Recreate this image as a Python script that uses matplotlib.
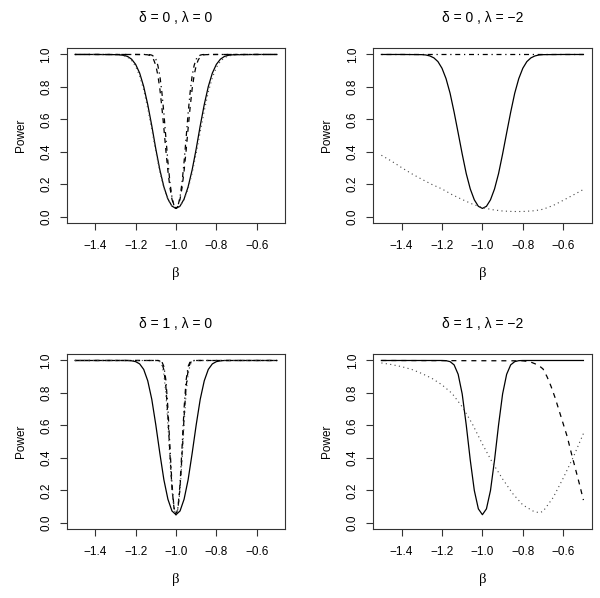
import matplotlib
matplotlib.use("Agg")
import matplotlib.pyplot as plt

plt.rcParams['font.family'] = ['Liberation Sans', 'DejaVu Sans']

# ---------------- data ----------------
# wide grid (0.02 steps near beta = -1)
beta_wide = [-1.50, -1.40, -1.30, -1.28, -1.26, -1.24, -1.22, -1.20, -1.18, -1.16,
             -1.14, -1.12, -1.10, -1.08, -1.06, -1.04, -1.02, -1.00, -0.98, -0.96,
             -0.94, -0.92, -0.90, -0.88, -0.86, -0.84, -0.82, -0.80, -0.78, -0.76,
             -0.74, -0.72, -0.70, -0.60, -0.50]
# narrow grid (0.01 steps near beta = -1)
beta_narrow = [-1.50, -1.30, -1.20, -1.15, -1.14, -1.13, -1.12, -1.11, -1.10, -1.09,
               -1.08, -1.07, -1.06, -1.05, -1.04, -1.03, -1.02, -1.01, -1.00, -0.99,
               -0.98, -0.97, -0.96, -0.95, -0.94, -0.93, -0.92, -0.91, -0.90, -0.89,
               -0.88, -0.87, -0.86, -0.85, -0.80, -0.70, -0.50]
beta_coarse = [-1.50, -1.45, -1.40, -1.35, -1.30, -1.25, -1.20, -1.15, -1.10, -1.05,
               -1.00, -0.95, -0.90, -0.85, -0.80, -0.75, -0.72, -0.70, -0.65, -0.60,
               -0.55, -0.50]
beta_p4_dash = [-1.50, -0.80, -0.78, -0.76, -0.74, -0.72, -0.70, -0.68, -0.66, -0.64,
                -0.62, -0.60, -0.58, -0.56, -0.54, -0.52, -0.50]
beta_flat = [-1.50, -0.50]

# panel 1: delta = 0, lambda = 0
p1_solid = [1.0, 1.0, 0.999, 0.998, 0.995, 0.988, 0.971, 0.939, 0.885, 0.802,
            0.691, 0.560, 0.417, 0.288, 0.183, 0.108, 0.064, 0.050, 0.064, 0.108,
            0.183, 0.288, 0.417, 0.560, 0.691, 0.802, 0.885, 0.939, 0.971, 0.988,
            0.995, 0.998, 0.999, 1.0, 1.0]
p1_dotted = [1.0, 1.0, 0.999, 0.997, 0.993, 0.983, 0.963, 0.927, 0.868, 0.781,
             0.667, 0.538, 0.401, 0.276, 0.176, 0.105, 0.063, 0.050, 0.063, 0.104,
             0.172, 0.268, 0.390, 0.522, 0.652, 0.768, 0.857, 0.920, 0.958, 0.980,
             0.991, 0.996, 0.998, 1.0, 1.0]
p1_dashed = [1.0, 1.0, 1.0, 0.999, 0.998, 0.994, 0.985, 0.966, 0.932, 0.873,
             0.788, 0.674, 0.544, 0.405, 0.281, 0.178, 0.107, 0.064, 0.050, 0.064,
             0.107, 0.178, 0.281, 0.405, 0.544, 0.674, 0.788, 0.873, 0.932, 0.966,
             0.985, 0.994, 0.998, 0.999, 1.0, 1.0, 1.0]
p1_dashdot = [1.0, 1.0, 1.0, 1.0, 1.0, 0.999, 0.996, 0.988, 0.971, 0.933,
              0.869, 0.767, 0.637, 0.484, 0.337, 0.210, 0.120, 0.067, 0.050, 0.067,
              0.120, 0.210, 0.337, 0.484, 0.637, 0.767, 0.869, 0.933, 0.971, 0.988,
              0.996, 0.999, 1.0, 1.0, 1.0, 1.0, 1.0]

# panel 2: delta = 0, lambda = -2
p2_solid = [1.0, 1.0, 0.999, 0.997, 0.991, 0.979, 0.956, 0.915, 0.851, 0.761,
            0.644, 0.516, 0.386, 0.265, 0.170, 0.103, 0.063, 0.050, 0.063, 0.103,
            0.170, 0.265, 0.386, 0.516, 0.644, 0.761, 0.851, 0.915, 0.956, 0.979,
            0.991, 0.997, 0.999, 1.0, 1.0]
p2_dotted = [0.378, 0.342, 0.302, 0.264, 0.230, 0.198, 0.170, 0.135, 0.105, 0.077,
             0.055, 0.042, 0.034, 0.031, 0.031, 0.035, 0.040, 0.045, 0.068, 0.100,
             0.133, 0.167]
p2_dashdot = [1.0, 1.0]

# panel 3: delta = 1, lambda = 0
p3_solid = [1.0, 1.0, 1.0, 1.0, 1.0, 1.0, 0.998, 0.993, 0.979, 0.945,
            0.875, 0.761, 0.603, 0.428, 0.265, 0.145, 0.073, 0.050, 0.073, 0.145,
            0.265, 0.428, 0.603, 0.761, 0.875, 0.945, 0.979, 0.993, 0.998, 1.0,
            1.0, 1.0, 1.0, 1.0, 1.0]
p3_dashed = [1.0, 1.0, 1.0, 1.0, 1.0, 1.0, 1.0, 1.0, 1.0, 1.0,
             0.997, 0.985, 0.942, 0.836, 0.652, 0.421, 0.218, 0.091, 0.050, 0.091,
             0.218, 0.421, 0.652, 0.836, 0.942, 0.985, 0.997, 1.0, 1.0, 1.0,
             1.0, 1.0, 1.0, 1.0, 1.0, 1.0, 1.0]
p3_dashdot = [1.0, 1.0, 1.0, 1.0, 1.0, 1.0, 1.0, 1.0, 1.0, 1.0,
              0.999, 0.992, 0.963, 0.878, 0.705, 0.466, 0.240, 0.096, 0.050, 0.096,
              0.240, 0.466, 0.705, 0.878, 0.963, 0.992, 0.999, 1.0, 1.0, 1.0,
              1.0, 1.0, 1.0, 1.0, 1.0, 1.0, 1.0]
p3_dotted = [1.0, 1.0, 1.0, 1.0, 1.0, 1.0, 1.0, 1.0, 1.0, 0.999,
             0.993, 0.973, 0.915, 0.794, 0.603, 0.386, 0.199, 0.086, 0.050, 0.086,
             0.199, 0.386, 0.603, 0.794, 0.915, 0.973, 0.993, 0.999, 1.0, 1.0,
             1.0, 1.0, 1.0, 1.0, 1.0, 1.0, 1.0]

# panel 4: delta = 1, lambda = -2
p4_solid = [1.0, 1.0, 1.0, 1.0, 1.0, 1.0, 1.0, 1.0, 0.999, 0.993,
            0.973, 0.915, 0.794, 0.603, 0.386, 0.199, 0.086, 0.050, 0.086, 0.199,
            0.386, 0.603, 0.794, 0.915, 0.973, 0.993, 0.999, 1.0, 1.0, 1.0,
            1.0, 1.0, 1.0, 1.0, 1.0]
p4_dotted = [0.985, 0.975, 0.962, 0.945, 0.920, 0.890, 0.850, 0.797, 0.715, 0.610,
             0.485, 0.370, 0.270, 0.180, 0.110, 0.073, 0.062, 0.070, 0.155, 0.275,
             0.405, 0.550]
p4_dashed = [1.0, 0.998, 0.995, 0.990, 0.980, 0.968, 0.948, 0.900, 0.840, 0.770,
             0.690, 0.610, 0.530, 0.430, 0.335, 0.240, 0.140]

titles = ["δ = 0 , λ = 0", "δ = 0 , λ = −2", "δ = 1 , λ = 0", "δ = 1 , λ = −2"]
xticks = [-1.4, -1.2, -1.0, -0.8, -0.6]
xticklabels = ["−1.4", "−1.2", "−1.0", "−0.8", "−0.6"]
yticks = [0.0, 0.2, 0.4, 0.6, 0.8, 1.0]
yticklabels = ["0.0", "0.2", "0.4", "0.6", "0.8", "1.0"]

# ---------------- figure ----------------
W, H = 600, 598
fig = plt.figure(figsize=(W / 100, H / 100), dpi=100)

boxes = [(67, 48, 285, 223), (373.3, 48, 591.5, 223),
         (67, 354, 285, 529.3), (373.3, 354, 591.5, 529.3)]

styles = {
    'solid': dict(linestyle='-', lw=0.9, color='black'),
    'dashed': dict(linestyle=(0, (4, 4)), lw=0.9, color='black'),
    'dotted': dict(linestyle=(0, (1, 3)), lw=0.8, color='#444444'),
    'dashdot': dict(linestyle=(0, (1, 3, 4, 3)), lw=0.9, color='black'),
}

series = [
    [(beta_wide, p1_solid, 'solid'), (beta_wide, p1_dotted, 'dotted'),
     (beta_narrow, p1_dashed, 'dashed'), (beta_narrow, p1_dashdot, 'dashdot')],
    [(beta_flat, p2_dashdot, 'dashdot'), (beta_wide, p2_solid, 'solid'),
     (beta_coarse, p2_dotted, 'dotted')],
    [(beta_wide, p3_solid, 'solid'), (beta_narrow, p3_dashed, 'dashed'),
     (beta_narrow, p3_dashdot, 'dashdot'), (beta_narrow, p3_dotted, 'dotted')],
    [(beta_p4_dash, p4_dashed, 'dashed'), (beta_wide, p4_solid, 'solid'),
     (beta_coarse, p4_dotted, 'dotted')],
]

for i, (l, t, r, b) in enumerate(boxes):
    ax = fig.add_axes([l / W, 1 - b / H, (r - l) / W, (b - t) / H])
    for xs, ys, st in series[i]:
        ax.plot(xs, ys, **styles[st])
    ax.set_xlim(-1.54, -0.46)
    ax.set_ylim(-0.04, 1.04)
    ax.set_xticks(xticks)
    ax.set_xticklabels(xticklabels)
    ax.set_yticks(yticks)
    ax.set_yticklabels(yticklabels)
    ax.tick_params(axis='both', direction='out', length=5, width=0.8,
                   labelsize=8.5, pad=7, color='#333333')
    ax.tick_params(axis='y', labelrotation=90, pad=5.5)
    for lab in ax.get_yticklabels():
        lab.set_verticalalignment('center')
        lab.set_horizontalalignment('right')
    for sp in ax.spines.values():
        sp.set_linewidth(0.8)
        sp.set_color('#333333')
    hbox = b - t
    wbox = r - l
    ax.text(0.5, 1 + 30 / hbox, titles[i], transform=ax.transAxes,
            ha='center', va='center', fontsize=10)
    ax.text(0.5, -50 / hbox, "β", transform=ax.transAxes,
            ha='center', va='center', fontsize=10.5, family=['Liberation Serif'])
    ax.text(-46 / wbox, 0.5, "Power", transform=ax.transAxes, rotation=90,
            ha='center', va='center', fontsize=8.5)

fig.savefig("out.png", dpi=100)
